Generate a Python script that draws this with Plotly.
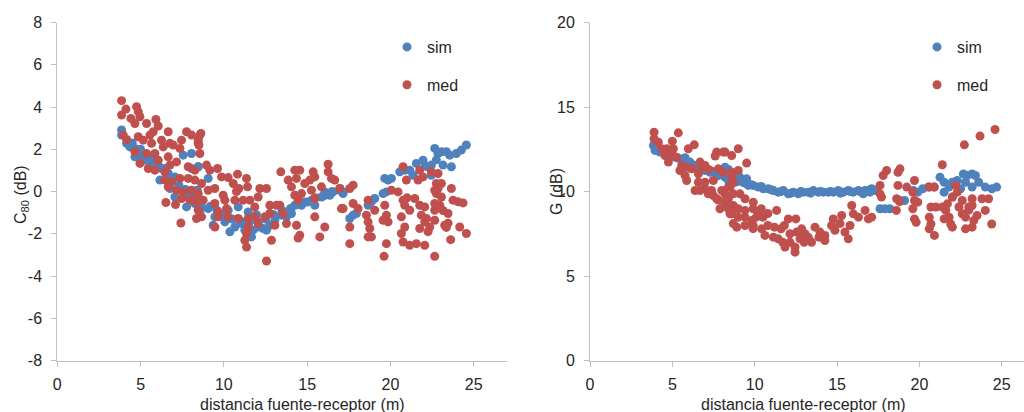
import plotly.graph_objects as go

# ---------------- data ----------------
# Left panel: C80 (dB) vs distance (m)
c80_sim_dist = [3.86,3.86,4.16,4.36,4.66,4.66,4.96,5.26,5.66,5.96,6.26,6.46,6.66,7.06,7.56,8.06,8.06,8.46,6.16,6.76,7.46,7.06,7.66,7.76,8.26,8.66,8.56,
                8.46,9.06,8.40,8.56,9.06,9.36,9.86,10.36,10.66,11.06,11.26,11.66,11.76,12.06,12.36,12.56,12.76,13.06,13.46,13.76,14.06,14.26,14.66,14.86,
                15.26,15.46,15.86,16.06,16.36,16.56,16.96,17.16,10.26,10.86,11.46,11.96,9.46,10.06,
                4.50,5.00,5.40,5.80,6.10,6.50,6.90,7.30,7.70,8.10,8.60,9.20,9.60,10.00,10.50,11.00,11.50,12.00,12.50,13.00,13.50,14.00,14.50,15.00,15.50,16.00,16.50,
                16.96,17.16,17.56,17.76,17.96,18.66,18.86,19.06,19.56,19.76,19.66,19.86,20.06,20.56,20.86,21.16,21.36,21.56,21.96,22.26,22.46,22.46,22.66,22.86,
                23.06,23.36,23.56,23.16,23.66,23.96,24.26,24.56,22.76,22.10]
c80_sim_val = [2.91,2.67,2.28,2.11,2.04,1.64,1.72,1.48,1.40,1.25,1.09,1.09,0.85,0.69,1.72,1.80,1.09,1.17,0.54,0.14,0.06,-0.26,-0.18,-0.73,-0.57,-0.73,-0.97,
               1.17,0.62,0.06,-0.81,-0.81,-1.60,-1.12,-1.91,-1.68,-1.52,-1.83,-2.15,-1.83,-1.68,-1.75,-1.83,-1.60,-1.36,-1.12,-1.20,-1.04,-0.65,-0.65,-0.50,
               -0.41,-0.65,-0.26,-0.02,-0.18,-0.02,0.14,-0.02,-0.89,-0.73,-0.97,-1.10,-1.20,-1.44,
               2.30,2.00,1.70,1.50,1.20,0.90,0.60,0.30,0.10,-0.20,-0.40,-0.70,-0.90,-1.10,-1.30,-1.40,-1.50,-1.40,-1.30,-1.10,-0.90,-0.80,-0.60,-0.50,-0.30,-0.20,0.00,
               0.06,-0.10,-1.28,-1.12,-1.04,-0.65,-0.49,-0.33,-0.10,-0.02,0.62,0.54,0.62,0.93,1.01,1.01,0.77,1.33,1.48,1.17,1.25,0.77,2.04,1.80,
               1.88,1.88,1.72,1.25,1.17,1.80,1.96,2.20,1.50,1.20]

c80_med_dist = [3.86,4.12,3.86,4.76,4.86,4.42,4.66,4.96,5.36,5.92,6.06,3.96,4.16,4.86,5.16,5.56,5.76,6.66,6.26,5.66,4.66,5.36,5.86,6.36,6.76,6.96,7.46,7.76,
                8.06,8.56,8.46,7.36,6.66,6.06,4.96,5.46,5.86,6.46,6.76,7.16,7.86,8.26,8.56,6.46,6.86,7.36,7.86,8.26,6.66,7.16,7.56,8.06,8.46,7.46,7.96,8.36,
                6.52,7.10,8.46,8.36,8.66,7.42,
                8.62,8.46,8.50,8.96,9.16,9.62,9.86,10.26,10.82,11.36,10.56,10.90,11.42,8.66,9.06,9.46,9.96,8.40,8.76,9.46,10.06,10.66,11.16,11.56,12.06,
                12.16,12.56,12.76,13.16,13.42,9.66,9.66,10.26,10.86,11.46,11.46,11.86,12.06,12.46,12.76,9.46,11.36,11.26,11.36,12.56,12.86,13.06,13.56,
                13.36,13.86,14.06,14.26,14.56,14.36,14.26,14.46,14.66,14.86,15.16,15.36,15.46,15.26,15.86,16.26,16.26,16.46,15.46,15.46,16.06,15.76,
                14.56,14.46,14.36,13.76,17.06,10.76,11.86,10.16,
                16.66,16.96,17.56,17.76,17.16,17.76,18.06,17.56,17.56,18.66,18.56,19.06,18.66,18.76,18.86,18.66,19.66,19.76,19.86,19.56,19.76,19.62,
                20.06,20.46,20.76,20.96,20.76,21.00,20.86,21.16,20.66,20.86,20.66,20.76,21.16,21.56,22.06,21.46,21.76,22.06,21.86,22.16,21.76,22.36,
                22.66,21.76,21.96,21.66,22.66,22.86,22.76,22.66,23.06,22.96,22.76,23.06,22.66,22.66,22.86,22.46,23.66,23.76,24.06,24.36,23.46,23.26,
                23.46,24.16,24.56,23.62,23.36,23.16,22.06,22.26]
c80_med_val = [4.30,3.90,3.62,4.01,3.78,3.46,3.22,3.54,3.22,3.41,3.10,2.67,2.46,2.59,2.43,2.67,2.83,2.83,2.43,2.28,1.88,1.80,1.80,2.11,2.28,2.20,2.43,2.83,
               2.67,2.67,2.28,2.04,1.64,1.48,1.33,1.09,1.01,0.93,1.25,1.40,1.17,1.01,1.80,0.54,0.46,0.62,0.62,0.54,0.22,0.06,-0.02,0.06,-0.10,-0.33,-0.41,-0.49,
               -0.52,-0.62,-0.89,-1.28,-1.20,-1.49,
               2.75,2.43,2.20,1.25,1.01,1.09,0.69,0.66,0.82,0.62,0.38,0.14,0.22,0.38,0.06,0.14,-0.18,-0.30,-0.41,-0.57,-0.41,-0.41,-0.41,-0.41,-0.26,
               0.14,0.14,-0.65,-0.65,0.93,-0.97,-1.20,-1.20,-1.28,-1.28,-1.68,-1.20,-1.52,-1.20,-1.04,-1.68,-1.99,-2.31,-2.63,-3.29,-2.31,-1.60,-1.04,
               -0.65,0.54,0.22,1.01,1.01,0.62,-0.18,-0.41,-0.10,0.38,0.54,0.93,0.69,0.06,0.22,1.29,0.93,0.62,-0.33,-1.20,-1.68,-2.15,
               -2.07,-2.20,-1.60,-1.52,-0.81,0.00,-0.73,-0.81,
               0.54,0.14,0.14,0.30,-0.81,-0.57,-0.81,-1.68,-2.47,-0.41,-1.12,-0.89,-1.44,-1.75,-2.15,-2.15,-0.65,-1.12,-1.44,-1.36,-2.47,-3.07,
               0.06,-0.02,1.17,0.54,-0.41,-0.30,-0.65,-0.89,-1.20,-1.68,-1.99,-2.39,-2.55,-2.47,-2.55,-0.33,-0.65,-0.73,-1.12,-1.28,-1.75,-1.68,
               -1.36,1.01,0.69,0.54,0.06,0.14,-0.10,-0.57,-0.26,-0.65,0.38,0.38,-0.89,-3.07,0.85,0.93,0.14,-0.41,-0.49,-0.54,-1.04,-1.60,
               -1.50,-1.68,-1.99,-2.28,-1.70,-0.90,-1.44,-1.90]

# Right panel: G (dB) vs distance (m)
g_sim_dist = [3.85,3.95,4.25,4.55,4.86,5.16,5.46,5.77,6.07,6.38,6.68,6.98,7.29,7.59,7.79,8.00,8.20,8.50,8.70,8.40,4.76,5.77,
              8.20,8.70,8.80,9.10,9.31,9.51,9.61,9.91,10.22,10.52,10.82,11.13,11.43,11.73,12.04,12.34,12.65,12.95,13.25,13.56,13.86,14.16,14.47,
              14.77,15.07,15.38,15.68,15.98,16.29,16.59,16.99,17.30,8.40,
              4.10,4.40,5.00,5.30,6.20,6.50,7.10,7.40,9.00,9.40,9.80,10.40,11.00,11.60,12.20,12.80,13.40,14.00,14.60,15.20,15.80,16.40,17.00,
              16.70,17.10,17.61,17.90,18.20,18.82,19.10,19.63,19.90,20.20,20.54,20.90,21.25,21.50,21.80,22.00,22.30,22.50,22.67,22.90,23.20,
              23.40,22.80,23.20,23.60,24.00,24.40,24.69,21.50,22.00]
g_sim_val = [12.72,12.43,12.33,12.23,12.13,12.03,11.93,11.83,11.74,11.54,11.34,11.24,11.14,11.14,10.95,11.05,10.85,11.14,10.85,10.65,12.40,12.00,
             11.44,10.95,10.55,10.85,10.55,10.75,10.36,10.36,10.26,10.16,10.16,10.06,9.96,10.06,9.86,9.96,9.86,9.96,9.96,10.06,9.96,9.96,9.96,
             9.96,10.06,9.96,10.06,9.96,10.06,9.86,9.96,10.06,11.30,
             12.60,12.40,12.20,12.00,11.60,11.50,11.30,11.20,10.60,10.50,10.40,10.30,10.10,10.00,9.90,10.00,9.90,10.00,10.00,9.90,10.00,10.00,10.10,
             10.06,10.16,8.98,8.98,8.98,9.47,9.47,10.06,9.96,10.16,10.26,10.26,10.85,10.55,10.26,10.55,10.65,10.16,11.04,10.95,11.04,
             10.95,10.55,10.26,10.55,10.26,10.16,10.26,9.96,9.67]

g_med_dist = [3.89,3.89,4.15,5.36,5.00,4.35,4.66,5.06,4.96,4.55,4.76,5.26,5.57,5.87,5.46,5.77,5.87,6.17,5.97,6.33,6.68,6.78,6.98,7.20,6.58,6.58,
              6.38,6.68,6.98,6.98,7.49,7.38,7.18,7.49,7.69,8.00,8.20,7.79,7.89,8.20,8.40,8.40,8.60,8.70,7.69,8.09,8.60,7.60,7.79,8.09,8.60,8.50,8.70,
              9.00,8.20,9.51,9.00,8.60,8.40,8.70,9.10,9.41,9.91,8.30,8.70,9.00,9.41,9.91,8.50,9.00,9.41,9.81,10.10,10.50,8.91,9.41,9.91,10.42,
              10.80,11.33,12.04,12.50,11.20,11.60,11.80,10.62,11.13,11.43,11.84,12.14,12.45,12.45,12.75,13.05,13.25,13.45,13.66,13.96,14.26,14.26,
              14.67,14.87,14.77,15.28,15.18,15.48,15.79,15.68,15.99,15.89,16.30,16.70,17.10,12.85,12.55,12.14,11.70,13.90,13.00,10.20,9.90,10.80,10.40,
              24.59,23.68,22.73,21.39,18.01,17.80,18.82,18.70,17.61,17.61,17.70,16.90,18.62,18.80,18.60,18.70,19.23,19.70,19.60,19.70,19.90,
              19.60,19.70,19.80,20.60,20.90,20.70,21.00,20.60,20.70,20.60,20.91,21.40,21.60,21.50,21.80,21.90,22.00,22.00,22.30,22.20,22.40,22.60,
              22.80,22.80,23.00,23.20,23.20,23.30,23.20,23.50,23.80,24.20,24.00,24.39,23.00,22.60,21.70]
g_med_val = [13.51,13.12,12.92,13.47,12.98,12.53,12.53,12.53,12.23,12.13,11.74,12.03,11.54,11.44,11.24,10.95,10.65,11.34,12.53,12.76,11.74,11.44,
             11.54,11.30,11.05,10.55,10.06,10.06,10.16,10.55,10.65,10.06,9.86,9.76,9.57,10.06,9.86,9.50,8.98,9.27,9.57,8.98,8.68,8.10,12.33,12.33,
             12.13,12.10,11.34,11.14,10.85,10.26,10.55,
             12.53,12.33,11.68,11.24,11.14,10.26,9.86,9.86,9.57,9.37,9.57,9.17,8.98,8.88,8.98,8.68,8.48,8.48,8.28,8.48,8.48,7.89,7.99,7.99,7.79,
             7.99,8.88,8.38,8.38,7.89,7.79,7.99,7.40,7.30,7.20,6.71,7.00,6.71,6.41,7.20,7.50,7.30,7.00,7.89,7.60,7.40,7.10,
             7.99,7.70,8.38,8.58,8.10,7.60,7.99,7.20,8.68,9.17,8.48,8.88,8.48,7.79,7.60,7.50,7.00,7.30,7.00,8.68,7.80,8.70,8.98,
             13.67,13.28,12.76,11.58,11.24,10.95,11.34,11.14,10.36,9.86,9.67,8.38,9.57,9.40,8.88,10.36,10.26,10.65,9.96,9.47,9.37,
             8.98,8.38,8.18,10.26,10.26,9.08,9.08,8.48,8.08,7.79,7.40,9.08,8.88,8.38,8.48,8.08,7.89,9.67,9.96,10.36,9.08,8.68,
             8.48,7.79,9.08,9.57,9.17,8.28,7.89,8.58,9.57,9.57,8.88,8.08,8.90,9.47,9.27]

x_ticks = [0, 5, 10, 15, 20, 25]
c80_ticks = [-8, -6, -4, -2, 0, 2, 4, 6, 8]
g_ticks = [0, 5, 10, 15, 20]
series_names = ["sim", "med"]

# ---------------- style ----------------
BLUE = "#4F81BD"
RED = "#C0504D"
AXIS = "#BFBFBF"
TXT = "#262626"
FONT = "Liberation Sans, Arial, sans-serif"
W, H = 1024, 412
MS = 9

def px_x(p):
    return p / W

def px_y(p):
    return 1 - p / H

fig = go.Figure()
fig.add_trace(go.Scatter(x=c80_sim_dist, y=c80_sim_val, mode="markers", name=series_names[0],
                         marker=dict(color=BLUE, size=MS), xaxis="x", yaxis="y",
                         legend="legend", legendgroup="a1"))
fig.add_trace(go.Scatter(x=c80_med_dist, y=c80_med_val, mode="markers", name=series_names[1],
                         marker=dict(color=RED, size=MS), xaxis="x", yaxis="y",
                         legend="legend", legendgroup="b1"))
fig.add_trace(go.Scatter(x=g_sim_dist, y=g_sim_val, mode="markers", name=series_names[0],
                         marker=dict(color=BLUE, size=MS), xaxis="x2", yaxis="y2",
                         legend="legend2", legendgroup="a2"))
fig.add_trace(go.Scatter(x=g_med_dist, y=g_med_val, mode="markers", name=series_names[1],
                         marker=dict(color=RED, size=MS), xaxis="x2", yaxis="y2",
                         legend="legend2", legendgroup="b2"))

axis_common = dict(showline=True, linecolor=AXIS, linewidth=1, ticks="outside", ticklen=5,
                   tickcolor=AXIS, showgrid=False, zeroline=False,
                   tickfont=dict(family=FONT, size=16, color=TXT), automargin=False)

ydom = [px_y(360.5), px_y(22.5)]
fig.update_layout(
    width=W, height=H,
    margin=dict(l=0, r=0, t=0, b=0),
    paper_bgcolor="white", plot_bgcolor="white",
    font=dict(family=FONT, size=16, color=TXT),
    xaxis=dict(domain=[px_x(57.3), px_x(507)], range=[0, 27], tickvals=x_ticks,
               ticktext=[str(v) for v in x_ticks], anchor="y",
               ticklabelstandoff=4, **axis_common),
    yaxis=dict(domain=ydom, range=[-8, 8], tickvals=c80_ticks,
               ticktext=[str(v) for v in c80_ticks], anchor="x",
               ticklabelstandoff=6, **axis_common),
    xaxis2=dict(domain=[px_x(590), 1.0], range=[0, 26.35], tickvals=x_ticks,
                ticktext=[str(v) for v in x_ticks], anchor="y2",
                ticklabelstandoff=4, **axis_common),
    yaxis2=dict(domain=ydom, range=[0, 20], tickvals=g_ticks,
                ticktext=[str(v) for v in g_ticks], anchor="x2",
                ticklabelstandoff=6, **axis_common),
    legend=dict(x=px_x(387), y=px_y(30), xanchor="left", yanchor="top",
                bgcolor="rgba(0,0,0,0)", traceorder="grouped", tracegroupgap=14,
                font=dict(family=FONT, size=16, color=TXT)),
    legend2=dict(x=px_x(917), y=px_y(30), xanchor="left", yanchor="top",
                 bgcolor="rgba(0,0,0,0)", traceorder="grouped", tracegroupgap=14,
                 font=dict(family=FONT, size=16, color=TXT)),
    annotations=[
        dict(text="distancia fuente-receptor (m)", x=px_x(302), y=px_y(404), xref="paper", yref="paper",
             showarrow=False, xanchor="center", yanchor="middle", font=dict(family=FONT, size=16, color=TXT)),
        dict(text="distancia fuente-receptor (m)", x=px_x(803), y=px_y(404), xref="paper", yref="paper",
             showarrow=False, xanchor="center", yanchor="middle", font=dict(family=FONT, size=16, color=TXT)),
        dict(text="C<sub>80</sub> (dB)", x=px_x(21), y=px_y(195), xref="paper", yref="paper", textangle=-90,
             showarrow=False, xanchor="center", yanchor="middle", font=dict(family=FONT, size=16, color=TXT)),
        dict(text="G (dB)", x=px_x(556), y=px_y(192), xref="paper", yref="paper", textangle=-90,
             showarrow=False, xanchor="center", yanchor="middle", font=dict(family=FONT, size=16, color=TXT)),
    ],
)

fig.write_html("out.html")
